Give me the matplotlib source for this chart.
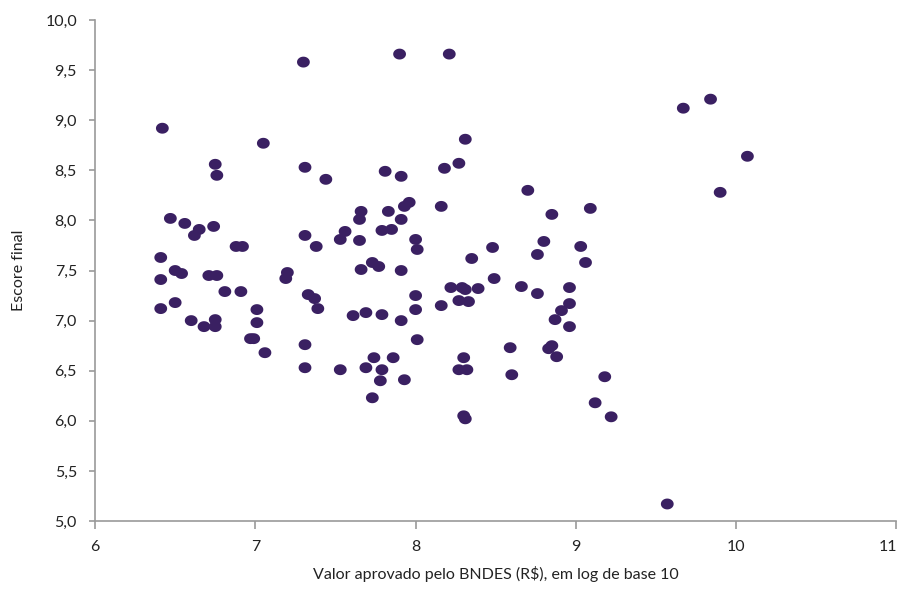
import numpy as np
import matplotlib
matplotlib.use("Agg")
import matplotlib.pyplot as plt
from matplotlib.path import Path
from matplotlib.transforms import ScaledTranslation

# dados: log10 do valor aprovado x escore final
valor_log = [
    6.42, 7.05, 6.75, 6.76, 6.47, 6.56, 6.65, 6.62, 6.74, 6.88, 6.92, 6.41,
    6.50, 6.54, 6.41, 6.71, 6.76, 6.81, 6.91, 6.41, 6.50, 7.01, 6.60, 6.68,
    6.75, 6.75, 7.01, 6.97, 6.99, 7.06,
    7.30, 7.90, 8.21, 8.31, 7.31, 7.44, 7.81, 7.91, 8.18, 8.27, 8.16, 7.96,
    7.93, 7.91, 7.83, 7.66, 7.65, 7.56, 7.53, 7.65, 7.79, 7.85, 7.31, 7.38,
    8.00, 8.01, 8.35,
    7.20, 7.19, 7.66, 7.73, 7.77, 7.91, 7.33, 7.37, 7.39, 7.61, 7.69, 7.79,
    7.91, 8.00, 8.00, 8.01, 8.16, 8.22, 8.29, 8.31, 8.27, 8.33, 8.39, 7.31,
    7.31, 7.53, 7.74, 7.86, 7.69, 7.79, 7.78, 7.93, 7.73, 8.30, 8.27, 8.32,
    8.30, 8.31,
    8.70, 8.85, 9.09, 8.48, 8.80, 8.76, 9.03, 9.06, 8.49, 8.66, 8.76, 8.96,
    8.96, 8.91, 8.87, 8.96, 8.59, 8.83, 8.85, 8.88, 8.60, 9.18, 9.12, 9.22,
    9.57, 9.67, 9.84, 10.07, 9.90,
]
escore = [
    8.92, 8.77, 8.56, 8.45, 8.02, 7.97, 7.91, 7.85, 7.94, 7.74, 7.74, 7.63,
    7.50, 7.47, 7.41, 7.45, 7.45, 7.29, 7.29, 7.12, 7.18, 7.11, 7.00, 6.94,
    7.01, 6.94, 6.98, 6.82, 6.82, 6.68,
    9.58, 9.66, 9.66, 8.81, 8.53, 8.41, 8.49, 8.44, 8.52, 8.57, 8.14, 8.18,
    8.14, 8.01, 8.09, 8.09, 8.01, 7.89, 7.81, 7.80, 7.90, 7.91, 7.85, 7.74,
    7.81, 7.71, 7.62,
    7.48, 7.42, 7.51, 7.58, 7.54, 7.50, 7.26, 7.22, 7.12, 7.05, 7.08, 7.06,
    7.00, 7.25, 7.11, 6.81, 7.15, 7.33, 7.33, 7.31, 7.20, 7.19, 7.32, 6.76,
    6.53, 6.51, 6.63, 6.63, 6.53, 6.51, 6.40, 6.41, 6.23, 6.63, 6.51, 6.51,
    6.05, 6.02,
    8.30, 8.06, 8.12, 7.73, 7.79, 7.66, 7.74, 7.58, 7.42, 7.34, 7.27, 7.33,
    7.17, 7.10, 7.01, 6.94, 6.73, 6.72, 6.75, 6.64, 6.46, 6.44, 6.18, 6.04,
    5.17, 9.12, 9.21, 8.64, 8.28,
]

x_ticks = [6, 7, 8, 9, 10, 11]
y_ticks = [5.0, 5.5, 6.0, 6.5, 7.0, 7.5, 8.0, 8.5, 9.0, 9.5, 10.0]

plt.rcParams["font.family"] = ["Lato", "DejaVu Sans"]

# marcador levemente achatado (elipse)
t = np.linspace(0, 2 * np.pi, 40)
elipse = Path(np.column_stack([np.cos(t), 0.85 * np.sin(t)]))

fig = plt.figure(figsize=(8.99, 5.92), dpi=100)
ax = fig.add_axes([0.1057, 0.1199, 0.8915, 0.8463])

ax.scatter(valor_log, escore, marker=elipse, s=85, color="#3a2062",
           edgecolors="none", zorder=3)

ax.set_xlim(6, 11)
ax.set_ylim(5, 10)
ax.set_xticks(x_ticks)
ax.set_xticklabels([str(v) for v in x_ticks])
ax.set_yticks(y_ticks)
ax.set_yticklabels([f"{v:.1f}".replace(".", ",") for v in y_ticks])

for lado in ["top", "right"]:
    ax.spines[lado].set_visible(False)
for lado in ["left", "bottom"]:
    ax.spines[lado].set_color("#9a9a9a")
    ax.spines[lado].set_linewidth(1.2)

ax.tick_params(axis="x", direction="out", length=6, width=1.2, color="#9a9a9a",
               pad=8, labelsize=11.5, labelcolor="#222222")
ax.tick_params(axis="y", direction="out", length=4, width=1.2, color="#9a9a9a",
               pad=9, labelsize=11.5, labelcolor="#222222")

# o último rótulo (11) fica rente à borda: puxa um pouco para a esquerda
ultimo = ax.get_xticklabels()[-1]
ultimo.set_transform(ultimo.get_transform()
                     + ScaledTranslation(-6 / 72, 0, fig.dpi_scale_trans))

ax.set_xlabel("Valor aprovado pelo BNDES (R$), em log de base 10",
              fontsize=11.5, color="#222222", labelpad=8)
ax.set_ylabel("Escore final", fontsize=11.5, color="#222222", labelpad=14)

fig.savefig("out.png", dpi=100)
